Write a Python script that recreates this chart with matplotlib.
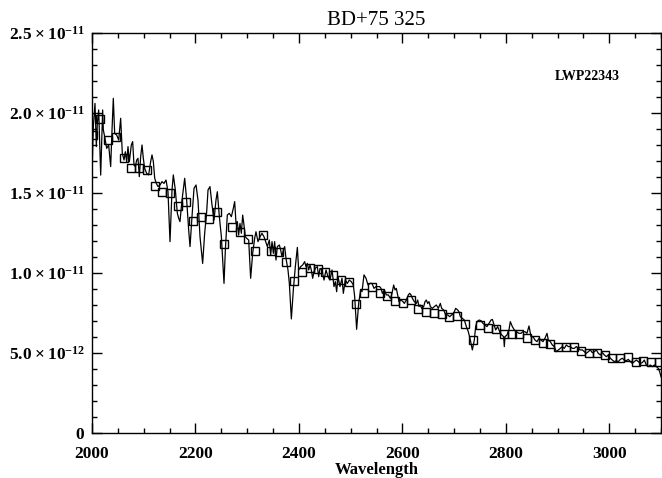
import matplotlib
matplotlib.use("Agg")
import matplotlib.pyplot as plt
import numpy as np
from matplotlib.ticker import MultipleLocator

# Spectrum trace: wavelength (A) and flux (units of 1e-11)
wave = [
    2000.0, 2002.6, 2005.8, 2008.4, 2010.3, 2012.9, 2016.8, 2020.6, 2021.9, 2024.5,
    2028.4, 2032.2, 2036.1, 2038.7, 2041.2, 2043.8, 2047.7, 2051.6, 2055.4, 2058.6,
    2061.9, 2064.4, 2067.0, 2069.6, 2072.2, 2076.0, 2078.6, 2081.2, 2083.8, 2086.4,
    2088.9, 2091.5, 2094.1, 2096.7, 2099.2, 2101.8, 2105.7, 2109.5, 2113.4, 2116.0,
    2118.6, 2121.2, 2124.4, 2127.6, 2131.5, 2135.3, 2139.2, 2143.1, 2146.9, 2150.8,
    2154.7, 2157.2, 2161.1, 2165.0, 2167.6, 2170.1, 2174.0, 2179.2, 2183.0, 2186.9,
    2189.5, 2193.3, 2197.2, 2201.1, 2204.9, 2208.8, 2213.9, 2217.8, 2221.7, 2224.3,
    2228.1, 2232.0, 2235.9, 2239.7, 2242.3, 2246.2, 2250.1, 2255.2, 2257.8, 2261.6,
    2265.5, 2269.4, 2273.2, 2275.8, 2278.4, 2281.0, 2283.5, 2286.1, 2288.7, 2291.3,
    2293.8, 2296.4, 2299.0, 2302.9, 2306.7, 2310.6, 2314.5, 2317.0, 2320.9, 2324.8,
    2328.6, 2332.5, 2339.0, 2342.8, 2345.4, 2348.0, 2350.6, 2353.1, 2355.7, 2358.3,
    2362.2, 2364.7, 2367.3, 2369.9, 2372.5, 2375.0, 2378.9, 2381.5, 2385.4, 2389.2,
    2393.1, 2397.0, 2399.5, 2403.4, 2407.3, 2411.1, 2413.7, 2416.3, 2418.9, 2421.4,
    2424.0, 2426.6, 2429.2, 2431.7, 2435.6, 2438.2, 2440.8, 2444.6, 2448.5, 2452.4,
    2456.2, 2460.1, 2464.0, 2467.8, 2470.4, 2473.0, 2475.6, 2479.4, 2483.3, 2485.9,
    2489.7, 2493.6, 2497.5, 2501.3, 2505.2, 2507.8, 2511.6, 2515.5, 2519.4, 2522.0,
    2525.8, 2529.7, 2533.6, 2537.4, 2541.3, 2545.2, 2549.0, 2552.9, 2556.1, 2558.7,
    2561.3, 2565.1, 2569.0, 2572.9, 2576.7, 2579.3, 2583.2, 2585.8, 2588.3, 2590.9,
    2593.5, 2597.4, 2601.2, 2603.8, 2607.7, 2611.5, 2614.1, 2616.7, 2619.3, 2623.1,
    2627.0, 2629.6, 2632.2, 2634.7, 2637.3, 2641.2, 2643.8, 2646.3, 2648.9, 2651.5,
    2654.1, 2657.9, 2661.8, 2665.7, 2669.5, 2673.4, 2676.0, 2679.9, 2683.7, 2687.6,
    2691.4, 2695.3, 2699.2, 2703.0, 2706.9, 2709.5, 2712.1, 2715.9, 2719.8, 2723.7,
    2727.5, 2731.4, 2735.3, 2739.1, 2741.7, 2744.3, 2748.2, 2752.0, 2755.9, 2759.8,
    2763.6, 2767.5, 2771.4, 2774.0, 2776.5, 2780.4, 2784.2, 2788.1, 2792.0, 2795.8,
    2797.1, 2798.4, 2802.3, 2806.1, 2808.7, 2812.6, 2816.5, 2820.3, 2825.5, 2829.3,
    2833.2, 2837.1, 2840.9, 2844.8, 2848.7, 2852.5, 2856.4, 2860.3, 2864.1, 2868.0,
    2871.9, 2875.7, 2879.6, 2882.2, 2886.0, 2889.9, 2893.8, 2897.6, 2901.5, 2905.4,
    2909.2, 2913.1, 2917.0, 2920.8, 2924.7, 2928.6, 2932.4, 2936.3, 2940.2, 2944.0,
    2947.9, 2951.8, 2955.6, 2959.5, 2963.4, 2967.2, 2971.1, 2975.0, 2978.8, 2982.7,
    2986.6, 2990.4, 2994.3, 2998.2, 3002.0, 3005.9, 3009.8, 3013.6, 3017.5, 3021.4,
    3025.2, 3029.1, 3033.0, 3036.8, 3040.7, 3044.6, 3048.4, 3052.3, 3056.2, 3060.0,
    3063.9, 3067.8, 3071.6, 3075.5, 3079.4, 3083.2, 3087.1, 3091.0, 3094.8, 3097.4,
    3100.0, 3102.0,
]
flux = [
    1.620, 1.915, 2.060, 1.790, 1.935, 2.019, 1.612, 2.019, 1.894, 1.852,
    1.779, 1.800, 1.665, 1.894, 2.092, 1.873, 1.862, 1.831, 1.967, 1.748,
    1.706, 1.758, 1.696, 1.790, 1.696, 1.800, 1.821, 1.675, 1.665, 1.706,
    1.717, 1.602, 1.727, 1.800, 1.717, 1.654, 1.623, 1.613, 1.696, 1.738,
    1.696, 1.592, 1.560, 1.540, 1.550, 1.571, 1.560, 1.581, 1.508, 1.196,
    1.519, 1.613, 1.519, 1.373, 1.342, 1.321, 1.456, 1.592, 1.456, 1.269,
    1.165, 1.352, 1.529, 1.550, 1.456, 1.227, 1.060, 1.248, 1.383, 1.519,
    1.540, 1.425, 1.331, 1.456, 1.508, 1.352, 1.227, 0.935, 1.144, 1.363,
    1.373, 1.352, 1.404, 1.446, 1.310, 1.321, 1.237, 1.310, 1.248, 1.362,
    1.300, 1.227, 1.217, 1.206, 0.967, 1.123, 1.217, 1.258, 1.196, 1.227,
    1.248, 1.227, 1.165, 1.206, 1.112, 1.196, 1.123, 1.196, 1.081, 1.165,
    1.175, 1.144, 1.102, 1.144, 1.165, 1.092, 1.019, 0.935, 0.713, 0.894,
    1.040, 1.160, 1.019, 1.040, 1.050, 1.071, 1.040, 1.060, 1.019, 1.050,
    1.019, 0.967, 1.008, 1.029, 1.040, 0.977, 1.029, 1.019, 0.956, 1.019,
    0.977, 0.956, 1.019, 0.915, 0.946, 0.883, 0.977, 0.915, 0.967, 0.873,
    0.956, 0.935, 0.956, 0.946, 0.925, 0.852, 0.648, 0.810, 0.894, 0.883,
    0.988, 0.967, 0.925, 0.935, 0.935, 0.904, 0.915, 0.915, 0.915, 0.904,
    0.873, 0.894, 0.863, 0.863, 0.842, 0.863, 0.925, 0.894, 0.904, 0.863,
    0.821, 0.831, 0.821, 0.810, 0.831, 0.863, 0.873, 0.863, 0.842, 0.821,
    0.810, 0.831, 0.790, 0.800, 0.779, 0.790, 0.821, 0.831, 0.810, 0.821,
    0.790, 0.779, 0.790, 0.800, 0.779, 0.810, 0.779, 0.769, 0.738, 0.738,
    0.727, 0.738, 0.748, 0.779, 0.769, 0.758, 0.727, 0.717, 0.706, 0.665,
    0.633, 0.581, 0.519, 0.581, 0.665, 0.696, 0.706, 0.702, 0.685, 0.675,
    0.665, 0.685, 0.706, 0.710, 0.685, 0.644, 0.665, 0.633, 0.613, 0.602,
    0.540, 0.602, 0.613, 0.644, 0.696, 0.665, 0.644, 0.633, 0.623, 0.623,
    0.633, 0.633, 0.623, 0.669, 0.602, 0.602, 0.581, 0.571, 0.592, 0.581,
    0.571, 0.592, 0.623, 0.581, 0.571, 0.550, 0.540, 0.508, 0.519, 0.529,
    0.540, 0.529, 0.550, 0.540, 0.540, 0.529, 0.529, 0.540, 0.529, 0.519,
    0.519, 0.508, 0.498, 0.508, 0.519, 0.502, 0.508, 0.519, 0.498, 0.488,
    0.502, 0.488, 0.477, 0.488, 0.467, 0.456, 0.446, 0.452, 0.446, 0.460,
    0.467, 0.456, 0.452, 0.460, 0.446, 0.435, 0.446, 0.456, 0.446, 0.435,
    0.440, 0.456, 0.425, 0.415, 0.425, 0.415, 0.425, 0.415, 0.404, 0.383,
    0.352, 0.340,
]

# Binned fluxes (15 A bins), units of 1e-11
bin_wave = [2001 + 15 * k for k in range(74)]
bin_flux = [
    1.860, 1.960, 1.830, 1.850, 1.720, 1.656, 1.656, 1.644, 1.544, 1.506,
    1.500, 1.419, 1.444, 1.325, 1.350, 1.338, 1.381, 1.181, 1.288, 1.256,
    1.213, 1.138, 1.238, 1.138, 1.131, 1.069, 0.950, 1.006, 1.031, 1.025,
    1.006, 0.988, 0.956, 0.944, 0.806, 0.875, 0.913, 0.875, 0.856, 0.825,
    0.813, 0.831, 0.775, 0.756, 0.750, 0.744, 0.725, 0.731, 0.681, 0.581,
    0.675, 0.656, 0.650, 0.619, 0.619, 0.619, 0.594, 0.581, 0.563, 0.556,
    0.538, 0.538, 0.538, 0.513, 0.500, 0.500, 0.488, 0.469, 0.469, 0.475,
    0.444, 0.450, 0.444, 0.444,
]

x_ticks = [2000, 2200, 2400, 2600, 2800, 3000]
y_ticks = [0, 5e-12, 1e-11, 1.5e-11, 2e-11, 2.5e-11]
y_tick_labels = [
    r"$\mathbf{0}$",
    r"$\mathbf{5.0\times10^{-12}}$",
    r"$\mathbf{1.0\times10^{-11}}$",
    r"$\mathbf{1.5\times10^{-11}}$",
    r"$\mathbf{2.0\times10^{-11}}$",
    r"$\mathbf{2.5\times10^{-11}}$",
]

plt.rcParams["font.family"] = ["Liberation Serif", "DejaVu Serif"]
plt.rcParams["mathtext.fontset"] = "custom"
plt.rcParams["mathtext.rm"] = "Liberation Serif"
plt.rcParams["mathtext.bf"] = "Liberation Serif:bold"

fig = plt.figure(figsize=(6.62, 4.78), dpi=100)
ax = fig.add_axes([92 / 662, 45 / 478, 569 / 662, 400 / 478])

scale = 1e-11
ax.plot(wave, np.array(flux) * scale, color="black", lw=0.9)
ax.plot(bin_wave, np.array(bin_flux) * scale, ls="none", marker="s", ms=6.2,
        mfc="none", mec="black", mew=1.0)

ax.set_xlim(2000, 3100)
ax.set_ylim(0, 2.5e-11)

ax.set_xticks(x_ticks)
ax.set_xticklabels([str(t) for t in x_ticks], fontweight="bold", fontsize=12.5)
ax.xaxis.set_minor_locator(MultipleLocator(50))
ax.set_yticks(y_ticks)
ax.set_yticklabels(y_tick_labels, fontsize=12.5)
ax.yaxis.set_minor_locator(MultipleLocator(1e-12))

ax.tick_params(which="both", direction="in", top=True, right=True, width=1.0)
ax.tick_params(which="major", length=7.5)
ax.tick_params(axis="x", which="major", pad=9)
ax.tick_params(axis="y", which="major", pad=5)
ax.tick_params(which="minor", length=3.8)
for sp in ax.spines.values():
    sp.set_linewidth(1.0)

# lift the zero label slightly off the bottom axis
ax.get_yticklabels()[0].set_va("center_baseline")

ax.set_xlabel("Wavelength", fontweight="bold", fontsize=12, labelpad=0)
ax.set_title("BD+75 325", fontsize=15, pad=6)
ax.text(0.927, 0.89, "LWP22343", transform=ax.transAxes, ha="right", va="center",
        fontweight="bold", fontsize=10)

fig.savefig("out.png", dpi=100)
